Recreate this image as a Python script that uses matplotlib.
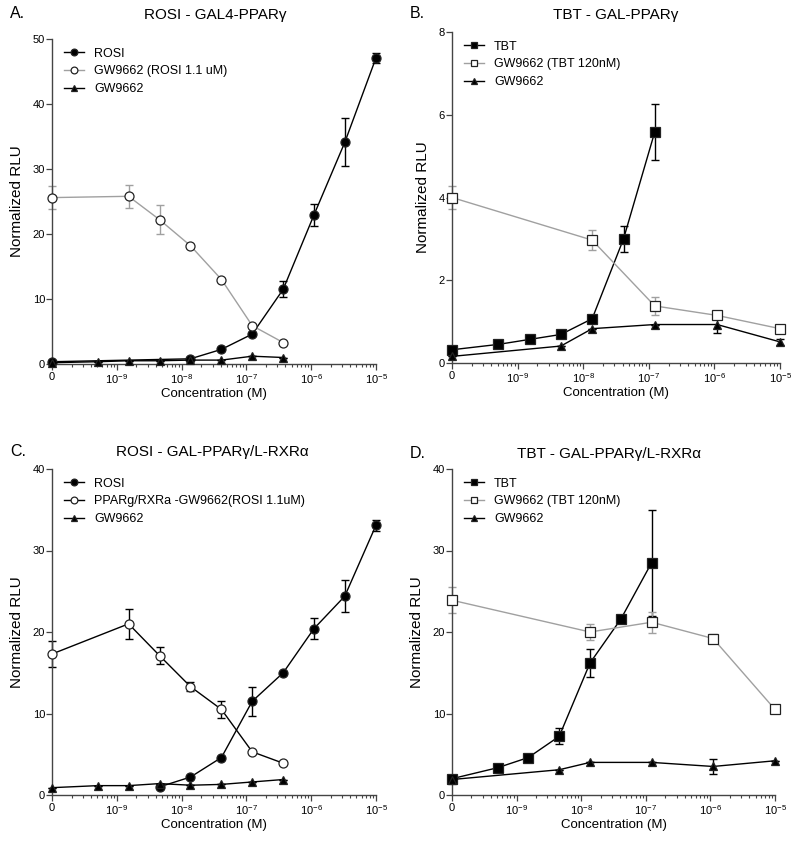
import matplotlib
matplotlib.use('Agg')
import matplotlib.pyplot as plt
from matplotlib.ticker import FixedLocator, LogLocator, NullFormatter

plt.rcParams['font.family'] = ['Liberation Sans', 'DejaVu Sans']
plt.rcParams['mathtext.default'] = 'regular'

# concentrations (M); 0 is drawn at the 1e-10 position
ZERO_POS = 1e-10

# --- panel A: ROSI - GAL4-PPARg
rosi_a_x = [0, 1.37e-8, 4.12e-8, 1.23e-7, 3.7e-7, 1.1e-6, 3.3e-6, 1e-5]
rosi_a_y = [0.35, 0.8, 2.25, 4.6, 11.5, 22.9, 34.1, 47.1]
rosi_a_err = [0, 0, 0, 0, 1.2, 1.7, 3.7, 0.8]
gwr_a_x = [0, 1.52e-9, 4.57e-9, 1.37e-8, 4.12e-8, 1.23e-7, 3.7e-7]
gwr_a_y = [25.6, 25.8, 22.2, 18.2, 13.0, 5.9, 3.3]
gwr_a_err = [1.8, 1.8, 2.2, 0, 0, 0, 0]
gw_a_x = [0, 5.1e-10, 1.52e-9, 4.57e-9, 1.37e-8, 4.12e-8, 1.23e-7, 3.7e-7]
gw_a_y = [0.2, 0.35, 0.5, 0.5, 0.6, 0.6, 1.2, 1.0]
gw_a_err = [0, 0, 0, 0, 0, 0, 0, 0]

# --- panel B: TBT - GAL-PPARg
tbt_b_x = [0, 5.1e-10, 1.52e-9, 4.57e-9, 1.37e-8, 4.12e-8, 1.23e-7]
tbt_b_y = [0.32, 0.45, 0.57, 0.69, 1.07, 3.0, 5.58]
tbt_b_err = [0, 0, 0, 0.05, 0, 0.32, 0.67]
gwt_b_x = [0, 1.37e-8, 1.23e-7, 1.1e-6, 1e-5]
gwt_b_y = [4.0, 2.97, 1.38, 1.15, 0.83]
gwt_b_err = [0.28, 0.24, 0.21, 0, 0]
gw_b_x = [0, 4.57e-9, 1.37e-8, 1.23e-7, 1.1e-6, 1e-5]
gw_b_y = [0.16, 0.41, 0.83, 0.93, 0.93, 0.51]
gw_b_err = [0, 0, 0, 0, 0.2, 0.08]

# --- panel C: ROSI - GAL-PPARg/L-RXRa
rosi_c_x = [4.57e-9, 1.37e-8, 4.12e-8, 1.23e-7, 3.7e-7, 1.1e-6, 3.3e-6, 1e-5]
rosi_c_y = [1.0, 2.2, 4.6, 11.5, 15.0, 20.4, 24.4, 33.1]
rosi_c_err = [0, 0, 0, 1.8, 0, 1.3, 2.0, 0.7]
gwr_c_x = [0, 1.52e-9, 4.57e-9, 1.37e-8, 4.12e-8, 1.23e-7, 3.7e-7]
gwr_c_y = [17.3, 21.0, 17.1, 13.3, 10.5, 5.3, 3.9]
gwr_c_err = [1.6, 1.8, 1.0, 0.6, 1.0, 0, 0]
gw_c_x = [0, 5.1e-10, 1.52e-9, 4.57e-9, 1.37e-8, 4.12e-8, 1.23e-7, 3.7e-7]
gw_c_y = [0.9, 1.15, 1.15, 1.4, 1.2, 1.3, 1.6, 1.9]
gw_c_err = [0, 0, 0, 0, 0, 0, 0, 0]

# --- panel D: TBT - GAL-PPARg/L-RXRa
tbt_d_x = [0, 5.1e-10, 1.52e-9, 4.57e-9, 1.37e-8, 4.12e-8, 1.23e-7]
tbt_d_y = [2.0, 3.35, 4.6, 7.2, 16.2, 21.6, 28.5]
tbt_d_err = [0, 0, 0, 1.0, 1.7, 0, 6.5]
gwt_d_x = [0, 1.37e-8, 1.23e-7, 1.1e-6, 1e-5]
gwt_d_y = [23.9, 20.0, 21.2, 19.2, 10.5]
gwt_d_err = [1.6, 1.0, 1.3, 0.6, 0]
gw_d_x = [0, 4.57e-9, 1.37e-8, 1.23e-7, 1.1e-6, 1e-5]
gw_d_y = [1.9, 3.1, 4.0, 4.0, 3.5, 4.2]
gw_d_err = [0, 0, 0, 0, 0.9, 0]

x_ticks = [1e-10, 1e-9, 1e-8, 1e-7, 1e-6, 1e-5]
x_ticklabels = ['0', '10$^{-9}$', '10$^{-8}$', '10$^{-7}$', '10$^{-6}$', '10$^{-5}$']

GRAY = '#a0a0a0'
EDGE = '#222222'
AXC = '#444444'

fig = plt.figure(figsize=(8, 8.48), dpi=100)
W, H = 800, 848


def add_ax(l, t, r, b):
    return fig.add_axes([l / W, 1 - b / H, (r - l) / W, (b - t) / H])


def series(ax, xs, ys, errs, marker, face, color, label, ms=6.5):
    xx = [ZERO_POS if v == 0 else v for v in xs]
    ax.errorbar(xx, ys, yerr=errs, fmt='none', ecolor=color, elinewidth=1.0,
                capsize=3, capthick=1.0, clip_on=False, zorder=2)
    ax.plot(xx, ys, color=color, lw=1.0, marker=marker, ms=ms, mfc=face,
            mec=EDGE, mew=0.9, label=label, clip_on=False, zorder=3)


def style(ax, ymax, ystep):
    ax.set_xscale('log')
    ax.set_xlim(1e-10, 1e-5)
    ax.set_ylim(0, ymax)
    ax.xaxis.set_major_locator(FixedLocator(x_ticks))
    ax.set_xticklabels(x_ticklabels, fontsize=8)
    ax.xaxis.set_minor_locator(LogLocator(base=10, subs=range(2, 10)))
    ax.xaxis.set_minor_formatter(NullFormatter())
    ax.set_yticks(range(0, ymax + 1, ystep))
    ax.tick_params(axis='y', labelsize=8, length=4, width=0.9, pad=1, color=AXC)
    ax.tick_params(axis='x', which='major', length=4, width=0.9, pad=2, color=AXC)
    ax.tick_params(axis='x', which='minor', length=2.5, width=0.8, color=AXC)
    for s in ['top', 'right']:
        ax.spines[s].set_visible(False)
    for s in ['left', 'bottom']:
        ax.spines[s].set_linewidth(1.0)
        ax.spines[s].set_color(AXC)
    ax.set_xlabel('Concentration (M)', fontsize=9.5, labelpad=1)
    ax.set_ylabel('Normalized RLU', fontsize=11, labelpad=6)
    ax.legend(loc='upper left', frameon=False, fontsize=9, handlelength=1.6,
              handletextpad=0.8, labelspacing=0.45, borderaxespad=0.3,
              markerscale=0.75, bbox_to_anchor=(0.01, 1.0))


# panel A
axA = add_ax(52, 39, 376, 364)
series(axA, rosi_a_x, rosi_a_y, rosi_a_err, 'o', 'black', 'black', 'ROSI')
series(axA, gwr_a_x, gwr_a_y, gwr_a_err, 'o', 'white', GRAY, 'GW9662 (ROSI 1.1 uM)')
series(axA, gw_a_x, gw_a_y, gw_a_err, '^', 'black', 'black', 'GW9662', ms=5.5)
style(axA, 50, 10)

# panel B
axB = add_ax(452, 32, 780, 363)
series(axB, tbt_b_x, tbt_b_y, tbt_b_err, 's', 'black', 'black', 'TBT')
series(axB, gwt_b_x, gwt_b_y, gwt_b_err, 's', 'white', GRAY, 'GW9662 (TBT 120nM)')
series(axB, gw_b_x, gw_b_y, gw_b_err, '^', 'black', 'black', 'GW9662', ms=5.5)
style(axB, 8, 2)

# panel C
axC = add_ax(52, 469, 376, 795)
series(axC, rosi_c_x, rosi_c_y, rosi_c_err, 'o', 'black', 'black', 'ROSI')
series(axC, gwr_c_x, gwr_c_y, gwr_c_err, 'o', 'white', 'black', 'PPARg/RXRa -GW9662(ROSI 1.1uM)')
series(axC, gw_c_x, gw_c_y, gw_c_err, '^', 'black', 'black', 'GW9662', ms=5.5)
style(axC, 40, 10)

# panel D
axD = add_ax(452, 469, 775, 795)
series(axD, tbt_d_x, tbt_d_y, tbt_d_err, 's', 'black', 'black', 'TBT')
series(axD, gwt_d_x, gwt_d_y, gwt_d_err, 's', 'white', GRAY, 'GW9662 (TBT 120nM)')
series(axD, gw_d_x, gw_d_y, gw_d_err, '^', 'black', 'black', 'GW9662', ms=5.5)
style(axD, 40, 10)

# panel letters and titles
fig.text(10 / W, 1 - 14 / H, 'A.', fontsize=11.5, va='center', ha='left')
fig.text(215 / W, 1 - 15 / H, 'ROSI - GAL4-PPARγ', fontsize=11, va='center', ha='center')
fig.text(410 / W, 1 - 14 / H, 'B.', fontsize=11.5, va='center', ha='left')
fig.text(616 / W, 1 - 15 / H, 'TBT - GAL-PPARγ', fontsize=11, va='center', ha='center')
fig.text(10 / W, 1 - 451 / H, 'C.', fontsize=11.5, va='center', ha='left')
fig.text(212 / W, 1 - 452 / H, 'ROSI - GAL-PPARγ/L-RXRα', fontsize=11, va='center', ha='center')
fig.text(410 / W, 1 - 454 / H, 'D.', fontsize=11.5, va='center', ha='left')
fig.text(609 / W, 1 - 454 / H, 'TBT - GAL-PPARγ/L-RXRα', fontsize=11, va='center', ha='center')

fig.savefig('out.png', dpi=100)
